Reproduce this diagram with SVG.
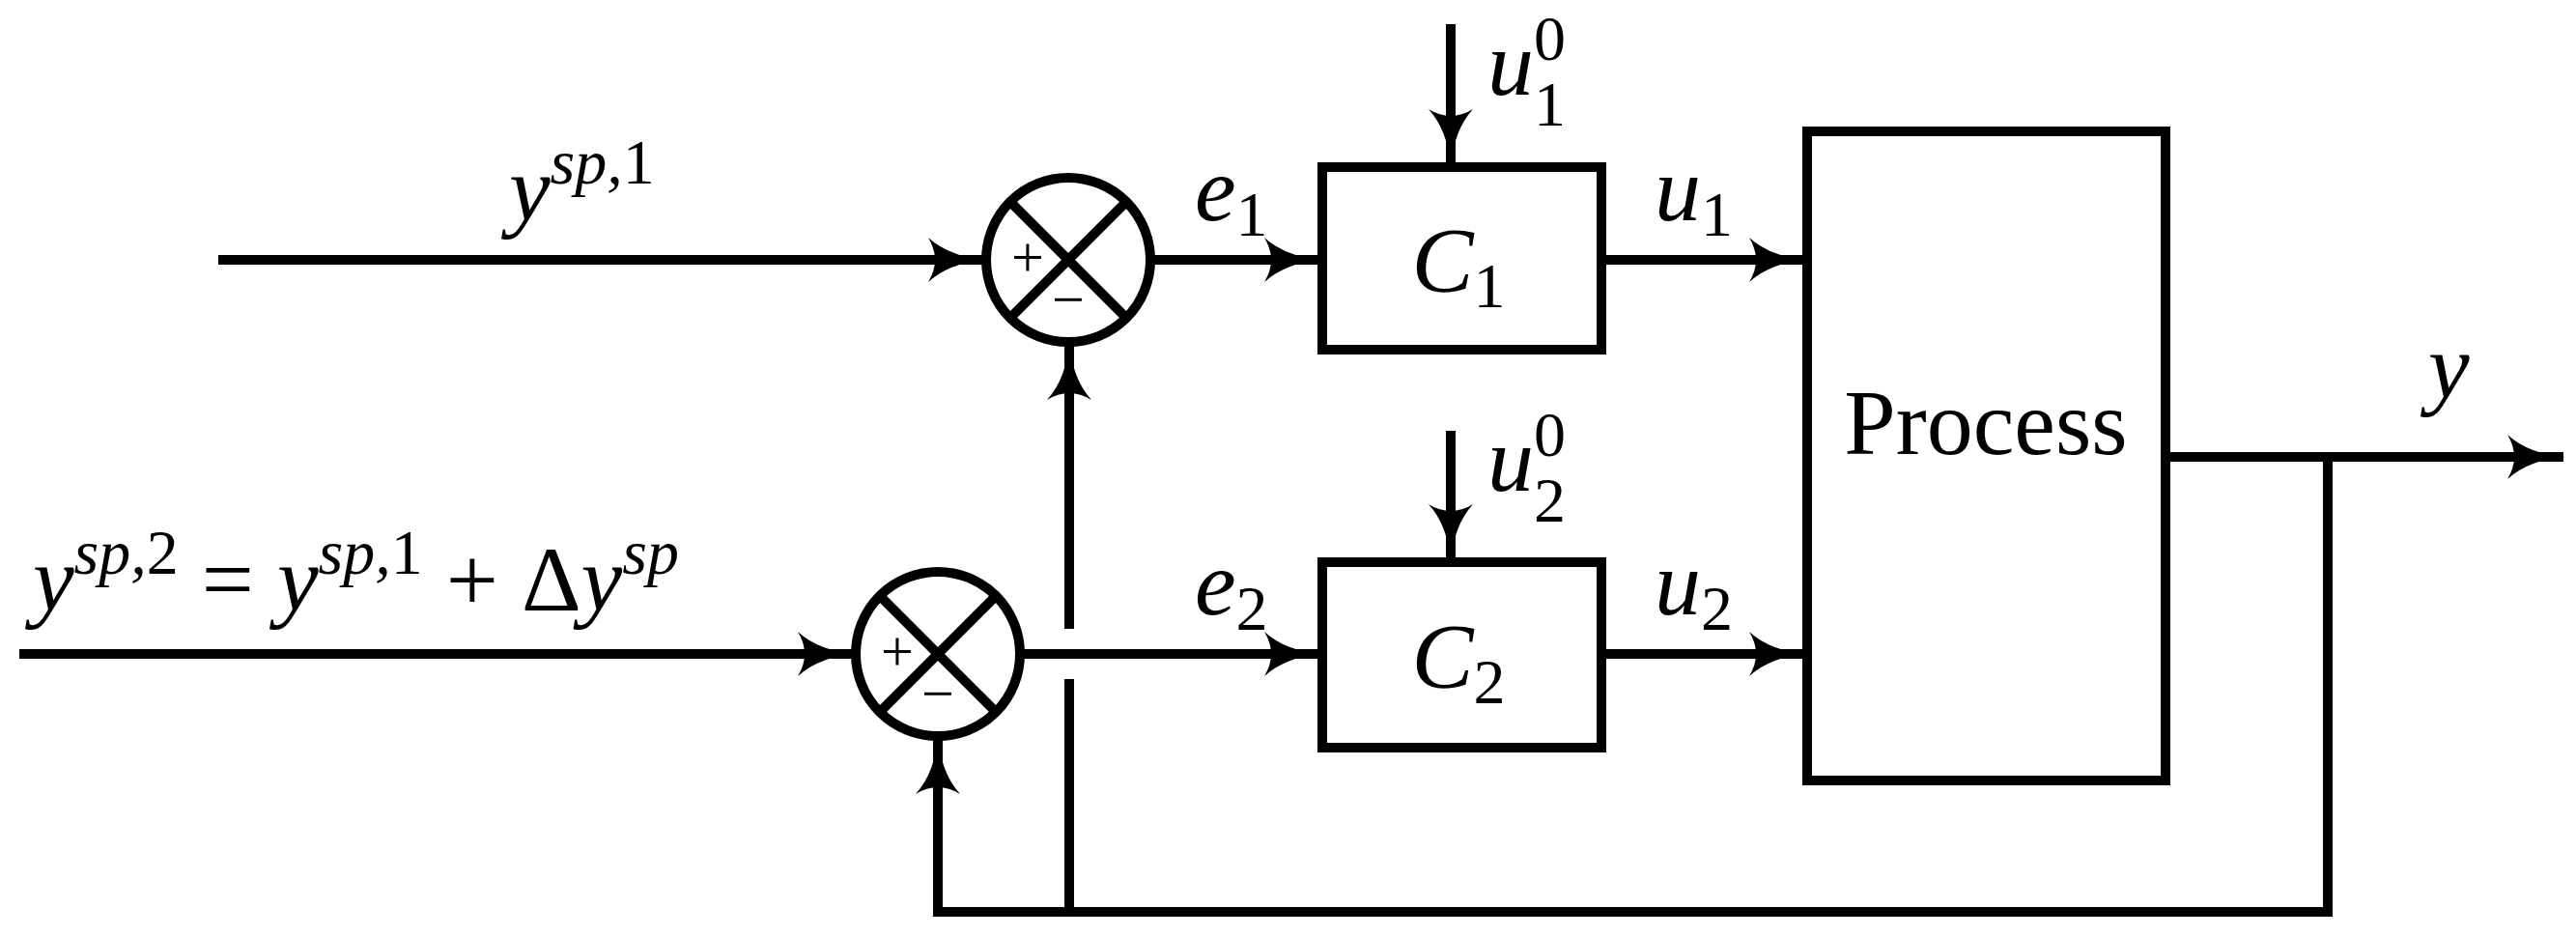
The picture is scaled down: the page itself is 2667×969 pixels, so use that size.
<svg xmlns="http://www.w3.org/2000/svg" width="2667" height="969" viewBox="0 0 2667 969">
<style>
.l{fill:none;stroke:#000;stroke-width:10}
.t{font-family:"Liberation Serif","Times New Roman","DejaVu Serif",serif;font-size:96px;font-style:italic;fill:#000}
.r{font-style:normal}
.s{font-size:66px;font-style:normal}
.si{font-size:66px}
.pm{font-family:"Liberation Serif","DejaVu Serif",serif;font-size:60px;fill:#000}
</style>
<defs>
<marker id="a" viewBox="0 0 60 46" refX="58" refY="23" markerWidth="60" markerHeight="46" markerUnits="userSpaceOnUse" orient="auto">
<path d="M0,0 Q22,20 60,23 Q22,26 0,46 Q14,23 0,0 Z" fill="#000"/>
</marker>
</defs>
<rect width="2667" height="969" fill="#fff"/>
<g id="sum1">
<circle class="l" cx="1106" cy="269" r="85"/>
<path class="l" d="M1046,209 L1166,329 M1166,209 L1046,329"/>
<text class="pm" x="1064" y="286" text-anchor="middle">+</text>
<text class="pm" x="1106" y="330" text-anchor="middle">−</text>
</g>
<g id="sum2">
<circle class="l" cx="971" cy="677" r="85"/>
<path class="l" d="M911,617 L1031,737 M1031,617 L911,737"/>
<text class="pm" x="929" y="694" text-anchor="middle">+</text>
<text class="pm" x="971" y="738" text-anchor="middle">−</text>
</g>
<g id="C1"><rect class="l" x="1369" y="173" width="289" height="189"/>
<text class="t" x="1510" y="302" text-anchor="middle">C<tspan class="s" dy="16">1</tspan></text></g>
<g id="C2"><rect class="l" x="1369" y="582" width="289" height="192"/>
<text class="t" x="1510" y="712" text-anchor="middle">C<tspan class="s" dy="16">2</tspan></text></g>
<g id="process"><rect class="l" x="1871" y="136" width="371" height="672"/>
<text class="t r" x="2056" y="470" text-anchor="middle">Process</text></g>
<g id="connectors">
<path class="l" d="M226,269 H1019" marker-end="url(#a)"/>
<path class="l" d="M20,677 H884" marker-end="url(#a)"/>
<path class="l" d="M1191,269 H1367" marker-end="url(#a)"/>
<path class="l" d="M1056,677 H1367" marker-end="url(#a)"/>
<path class="l" d="M1658,269 H1869" marker-end="url(#a)"/>
<path class="l" d="M1658,677 H1869" marker-end="url(#a)"/>
<path class="l" d="M1502,25 V171" marker-end="url(#a)"/>
<path class="l" d="M1502,446 V580" marker-end="url(#a)"/>
<path class="l" d="M2242,473 H2654" marker-end="url(#a)"/>
<path class="l" d="M2410,473 V944 H971 V764" marker-end="url(#a)"/>
<path class="l" d="M1107,944 V703"/>
<path class="l" d="M1107,651 V356" marker-end="url(#a)"/>
</g>
<g id="labels">
<text class="t" x="527" y="228">y<tspan class="si" dy="-38">sp,</tspan><tspan class="s">1</tspan></text>
<text class="t" x="1237" y="228">e<tspan class="s" dy="16">1</tspan></text>
<text class="t" x="1237" y="636">e<tspan class="s" dy="16">2</tspan></text>
<text class="t" x="1713" y="228">u<tspan class="s" dy="16">1</tspan></text>
<text class="t" x="1713" y="636">u<tspan class="s" dy="16">2</tspan></text>
<text class="t" x="1540" y="98">u</text><text class="t s" x="1588" y="62">0</text><text class="t s" x="1588" y="130">1</text>
<text class="t" x="1540" y="508">u</text><text class="t s" x="1588" y="472">0</text><text class="t s" x="1588" y="540">2</text>
<text class="t" x="2514" y="412">y</text>
<text class="t" x="34" y="632">y<tspan class="si" dy="-38">sp,</tspan><tspan class="s">2</tspan><tspan class="r" dy="38"> = </tspan>y<tspan class="si" dy="-38">sp,</tspan><tspan class="s">1</tspan><tspan class="r" dy="38"> + Δ</tspan>y<tspan class="si" dy="-38">sp</tspan></text>
</g>
</svg>
